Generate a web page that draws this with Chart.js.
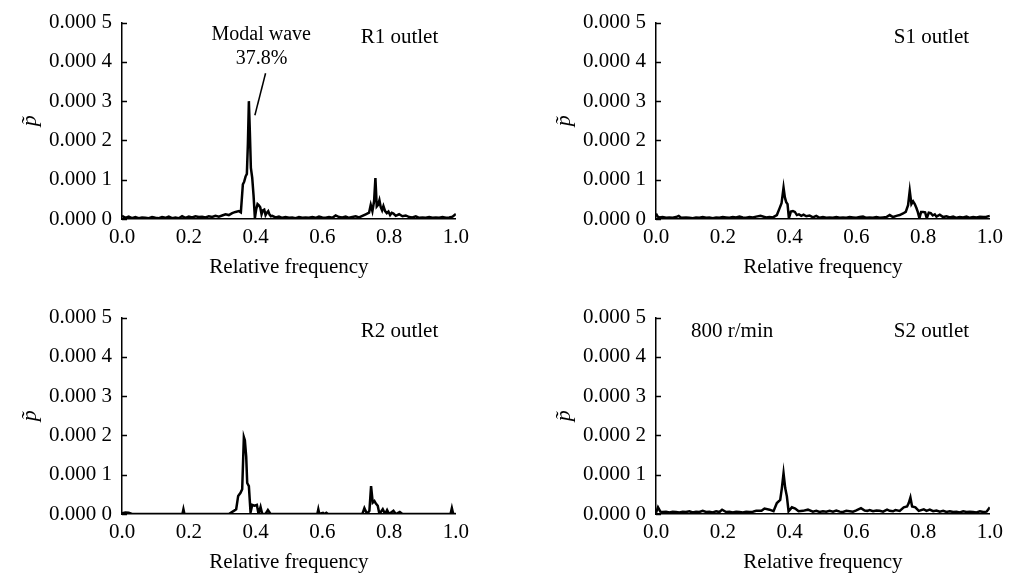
<!DOCTYPE html>
<html>
<head>
<meta charset="utf-8">
<script src="https://cdn.jsdelivr.net/npm/chart.js@4.4.1/dist/chart.umd.min.js"></script>
<style>
  html, body { margin: 0; padding: 0; background: #fff; overflow: hidden; }
  body { width: 1009px; height: 573px; position: relative; }
  canvas { position: absolute; }
</style>
</head>
<body>
<canvas id="chartR1" width="475" height="290" style="left:0;top:0"></canvas>
<canvas id="chartS1" width="475" height="290" style="left:534px;top:0"></canvas>
<canvas id="chartR2" width="475" height="290" style="left:0;top:295px"></canvas>
<canvas id="chartS2" width="475" height="290" style="left:534px;top:295px"></canvas>
<script>
'use strict';

// --- tick labels ---
const xTickLabels = ['0.0', '0.2', '0.4', '0.6', '0.8', '1.0'];
const yTickLabels = ['0.000 0', '0.000 1', '0.000 2', '0.000 3', '0.000 4', '0.000 5'];

// --- R1 outlet ---
const freqR1 = [
  0.00, 0.01, 0.02, 0.03, 0.04, 0.05, 0.06, 0.07, 0.08, 0.09,
  0.10, 0.11, 0.12, 0.13, 0.14, 0.15, 0.16, 0.17, 0.18, 0.19,
  0.20, 0.21, 0.22, 0.23, 0.24, 0.25, 0.26, 0.27, 0.28, 0.29,
  0.30, 0.31, 0.32, 0.33, 0.34, 0.35, 0.356, 0.362, 0.366, 0.370,
  0.374, 0.377, 0.380, 0.383, 0.386, 0.390, 0.394, 0.398, 0.402, 0.406,
  0.410, 0.414, 0.418, 0.422, 0.426, 0.430, 0.434, 0.438, 0.442, 0.446,
  0.45, 0.46, 0.47, 0.48, 0.49, 0.50, 0.51, 0.52, 0.53, 0.54,
  0.55, 0.56, 0.57, 0.58, 0.59, 0.60, 0.61, 0.62, 0.63, 0.64,
  0.65, 0.66, 0.67, 0.68, 0.69, 0.70, 0.71, 0.72, 0.73, 0.74,
  0.745, 0.750, 0.755, 0.759, 0.763, 0.767, 0.771, 0.775, 0.779, 0.783,
  0.788, 0.793, 0.798, 0.803, 0.808, 0.813, 0.82, 0.83, 0.84, 0.85,
  0.86, 0.87, 0.88, 0.89, 0.90, 0.91, 0.92, 0.93, 0.94, 0.95,
  0.96, 0.97, 0.98, 0.99, 1.00,
];
const pR1 = [
  8e-6, 3e-6, 6e-6, 2e-6, 5e-6, 2e-6, 4e-6, 3e-6, 2e-6, 5e-6,
  3e-6, 2e-6, 5e-6, 3e-6, 6e-6, 2e-6, 4e-6, 2e-6, 7e-6, 3e-6,
  6e-6, 4e-6, 7e-6, 5e-6, 6e-6, 4e-6, 7e-6, 5e-6, 8e-6, 6e-6,
  9e-6, 1.2e-5, 1.0e-5, 1.5e-5, 1.8e-5, 2.0e-5, 1.7e-5, 8.8e-5, 9.5e-5, 1.08e-4,
  1.15e-4, 1.9e-4, 3.0e-4, 2.2e-4, 1.3e-4, 1.05e-4, 6e-5, 2e-6, 2.5e-5, 3.8e-5,
  3.5e-5, 3.0e-5, 1.2e-5, 2.2e-5, 2.4e-5, 1.0e-5, 1.6e-5, 2.0e-5, 1.1e-5, 7e-6,
  8e-6, 4e-6, 6e-6, 3e-6, 5e-6, 3e-6, 4e-6, 2e-6, 5e-6, 3e-6,
  4e-6, 3e-6, 5e-6, 3e-6, 6e-6, 4e-6, 3e-6, 5e-6, 3e-6, 9e-6,
  5e-6, 4e-6, 6e-6, 3e-6, 5e-6, 7e-6, 4e-6, 8e-6, 1.2e-5, 1.6e-5,
  3.6e-5, 2.0e-5, 4.5e-5, 1.04e-4, 3.2e-5, 3.6e-5, 4.8e-5, 3.0e-5, 2.2e-5, 3.3e-5,
  2.0e-5, 1.5e-5, 1.9e-5, 1.0e-5, 1.6e-5, 1.4e-5, 8e-6, 1.2e-5, 7e-6, 9e-6,
  5e-6, 4e-6, 7e-6, 3e-6, 4e-6, 3e-6, 5e-6, 3e-6, 4e-6, 3e-6,
  5e-6, 3e-6, 4e-6, 6e-6, 1.3e-5,
];

// --- S1 outlet ---
const freqS1 = [
  0.000, 0.005, 0.01, 0.02, 0.03, 0.04, 0.05, 0.06, 0.068, 0.075,
  0.09, 0.10, 0.11, 0.12, 0.13, 0.14, 0.15, 0.16, 0.17, 0.18,
  0.19, 0.20, 0.21, 0.22, 0.23, 0.24, 0.25, 0.26, 0.27, 0.28,
  0.29, 0.30, 0.313, 0.33, 0.34, 0.35, 0.362, 0.370, 0.376, 0.382,
  0.386, 0.390, 0.394, 0.398, 0.404, 0.410, 0.416, 0.422, 0.428, 0.435,
  0.442, 0.45, 0.46, 0.47, 0.48, 0.49, 0.50, 0.51, 0.52, 0.53,
  0.54, 0.55, 0.56, 0.57, 0.58, 0.59, 0.60, 0.61, 0.62, 0.63,
  0.64, 0.65, 0.66, 0.67, 0.68, 0.69, 0.70, 0.71, 0.72, 0.73,
  0.74, 0.748, 0.755, 0.760, 0.765, 0.770, 0.775, 0.780, 0.784, 0.789,
  0.794, 0.800, 0.806, 0.811, 0.817, 0.823, 0.829, 0.835, 0.84, 0.85,
  0.86, 0.87, 0.88, 0.89, 0.90, 0.91, 0.92, 0.93, 0.94, 0.95,
  0.96, 0.97, 0.98, 0.99, 1.00,
];
const pS1 = [
  1.4e-5, 6e-6, 4e-6, 5e-6, 3e-6, 4e-6, 3e-6, 5e-6, 8e-6, 3e-6,
  4e-6, 3e-6, 2e-6, 4e-6, 3e-6, 5e-6, 3e-6, 4e-6, 2e-6, 4e-6,
  3e-6, 5e-6, 4e-6, 3e-6, 5e-6, 4e-6, 6e-6, 4e-6, 3e-6, 5e-6,
  4e-6, 6e-6, 8e-6, 4e-6, 5e-6, 4e-6, 1.0e-5, 2.7e-5, 4.0e-5, 8.0e-5,
  5.5e-5, 4.3e-5, 3.8e-5, 2e-6, 1.9e-5, 2.0e-5, 1.8e-5, 1.0e-5, 1.2e-5, 8e-6,
  1.1e-5, 7e-6, 9e-6, 4e-6, 8e-6, 3e-6, 5e-6, 3e-6, 4e-6, 3e-6,
  5e-6, 3e-6, 4e-6, 3e-6, 5e-6, 4e-6, 3e-6, 5e-6, 6e-6, 3e-6,
  4e-6, 3e-6, 5e-6, 3e-6, 4e-6, 5e-6, 1.0e-5, 5e-6, 8e-6, 1.0e-5,
  1.4e-5, 1.8e-5, 3.5e-5, 7.2e-5, 3.8e-5, 4.5e-5, 3.8e-5, 2.8e-5, 1.8e-5, 2e-6,
  1.8e-5, 1.8e-5, 1.7e-5, 2e-6, 1.6e-5, 1.5e-5, 9e-6, 1.2e-5, 6e-6, 1.1e-5,
  5e-6, 7e-6, 4e-6, 6e-6, 3e-6, 5e-6, 4e-6, 6e-6, 3e-6, 5e-6,
  4e-6, 6e-6, 5e-6, 6e-6, 8e-6,
];

// --- R2 outlet ---
const freqR2 = [
  0.00, 0.01, 0.02, 0.03, 0.181, 0.184, 0.187, 0.32, 0.335, 0.342,
  0.348, 0.355, 0.360, 0.365, 0.368, 0.372, 0.375, 0.380, 0.385, 0.390,
  0.397, 0.404, 0.409, 0.415, 0.420, 0.430, 0.437, 0.445, 0.585, 0.588,
  0.591, 0.602, 0.607, 0.612, 0.617, 0.72, 0.726, 0.734, 0.741, 0.746,
  0.751, 0.756, 0.761, 0.766, 0.771, 0.781, 0.788, 0.794, 0.80, 0.813,
  0.82, 0.832, 0.84, 0.984, 0.988, 0.992, 1.00,
];
const pR2 = [
  2e-6, 4e-6, 3e-6, 0, 0, 1.2e-5, 0, 0, 8e-6, 1.2e-5,
  4.6e-5, 5.4e-5, 6.3e-5, 1.96e-4, 1.88e-4, 1.46e-4, 7.9e-5, 7.1e-5, 4e-6, 2.3e-5,
  2.1e-5, 2.3e-5, 0, 1.8e-5, 0, 0, 1.0e-5, 0, 0, 1.2e-5,
  0, 3e-6, 0, 3e-6, 0, 0, 1.5e-5, 0, 8e-6, 7.1e-5,
  2.9e-5, 3.3e-5, 2.6e-5, 2.1e-5, 0, 1.2e-5, 0, 1.0e-5, 0, 8e-6,
  0, 5e-6, 0, 0, 1.5e-5, 0, 0,
];

// --- S2 outlet ---
const freqS2 = [
  0.000, 0.006, 0.013, 0.02, 0.03, 0.04, 0.05, 0.06, 0.07, 0.08,
  0.09, 0.10, 0.11, 0.12, 0.13, 0.14, 0.15, 0.16, 0.17, 0.18,
  0.19, 0.198, 0.21, 0.22, 0.23, 0.24, 0.25, 0.26, 0.27, 0.28,
  0.29, 0.30, 0.316, 0.325, 0.34, 0.352, 0.362, 0.372, 0.377, 0.382,
  0.387, 0.392, 0.397, 0.407, 0.417, 0.427, 0.44, 0.455, 0.47, 0.48,
  0.49, 0.50, 0.51, 0.52, 0.53, 0.54, 0.55, 0.56, 0.57, 0.58,
  0.59, 0.60, 0.614, 0.625, 0.633, 0.64, 0.65, 0.66, 0.67, 0.68,
  0.692, 0.70, 0.71, 0.717, 0.73, 0.742, 0.752, 0.757, 0.762, 0.767,
  0.777, 0.787, 0.802, 0.81, 0.82, 0.83, 0.84, 0.85, 0.86, 0.87,
  0.88, 0.89, 0.90, 0.91, 0.92, 0.93, 0.94, 0.95, 0.96, 0.97,
  0.98, 0.99, 1.00,
];
const pS2 = [
  3e-6, 1.7e-5, 6e-6, 5e-6, 6e-6, 4e-6, 6e-6, 5e-6, 4e-6, 6e-6,
  5e-6, 7e-6, 4e-6, 6e-6, 5e-6, 8e-6, 5e-6, 6e-6, 4e-6, 7e-6,
  5e-6, 1.1e-5, 5e-6, 6e-6, 4e-6, 6e-6, 5e-6, 4e-6, 6e-6, 5e-6,
  6e-6, 8e-6, 8e-6, 1.4e-5, 1.1e-5, 7e-6, 2.8e-5, 3.6e-5, 6.6e-5, 1.04e-4,
  6.6e-5, 4.5e-5, 7e-6, 1.7e-5, 1.4e-5, 7e-6, 8e-6, 1.1e-5, 6e-6, 8e-6,
  5e-6, 7e-6, 6e-6, 8e-6, 6e-6, 9e-6, 6e-6, 5e-6, 8e-6, 7e-6,
  6e-6, 9e-6, 1.5e-5, 9e-6, 8e-6, 1.0e-5, 7e-6, 9e-6, 8e-6, 6e-6,
  1.1e-5, 8e-6, 7e-6, 1.0e-5, 8e-6, 1.7e-5, 1.9e-5, 2.8e-5, 4.2e-5, 1.9e-5,
  1.7e-5, 8e-6, 1.2e-5, 8e-6, 1.1e-5, 7e-6, 9e-6, 6e-6, 8e-6, 5e-6,
  7e-6, 5e-6, 6e-6, 4e-6, 7e-6, 5e-6, 6e-6, 5e-6, 4e-6, 7e-6,
  5e-6, 6e-6, 1.7e-5,
];

const FONT = 'Liberation Serif';

// text labels + leader line, placed in data units through the scales
const notesPlugin = {
  id: 'notes',
  afterDraw(chart, args, opts) {
    const { ctx, scales: { x, y }, chartArea } = chart;
    ctx.save();
    // inward y ticks
    ctx.strokeStyle = '#000';
    ctx.lineWidth = 1.5;
    y.ticks.forEach(t => {
      const py = Math.round(y.getPixelForValue(t.value)) + 0.5;
      ctx.beginPath();
      ctx.moveTo(chartArea.left, py);
      ctx.lineTo(chartArea.left + 5, py);
      ctx.stroke();
    });
    ctx.fillStyle = '#000';
    ctx.textAlign = 'center';
    ctx.textBaseline = 'middle';
    (opts.texts || []).forEach(t => {
      ctx.font = `${t.size || 21}px "${FONT}"`;
      ctx.fillText(t.text, x.getPixelForValue(t.x), y.getPixelForValue(t.y));
    });
    if (opts.line) {
      const [x1, y1, x2, y2] = opts.line;
      ctx.lineWidth = 1.5;
      ctx.beginPath();
      ctx.moveTo(x.getPixelForValue(x1), y.getPixelForValue(y1));
      ctx.lineTo(x.getPixelForValue(x2), y.getPixelForValue(y2));
      ctx.stroke();
    }
    ctx.restore();
  },
};

function makePanel(id, freq, values, padTop, notes) {
  const el = document.getElementById(id);
  if (!el) return;
  const tickFont = { family: FONT, size: 21 };
  new Chart(el.getContext('2d'), {
    type: 'line',
    data: {
      datasets: [{
        data: freq.map((f, i) => ({ x: f, y: values[i] })),
        borderColor: '#000',
        borderWidth: 2.5,
        pointRadius: 0,
        tension: 0,
        fill: false,
      }],
    },
    options: {
      responsive: false,
      animation: false,
      layout: { padding: { top: padTop, right: 15, left: 0, bottom: 0 } },
      plugins: {
        legend: { display: false },
        tooltip: { enabled: false },
        notes: notes,
      },
      scales: {
        x: {
          type: 'linear',
          min: 0,
          max: 1,
          ticks: {
            stepSize: 0.2,
            padding: 6,
            color: '#000',
            font: tickFont,
            maxRotation: 0,
            callback: (v, i) => xTickLabels[i],
          },
          grid: { display: false, drawTicks: false },
          border: { color: '#000', width: 1.5 },
          title: {
            display: true,
            text: 'Relative frequency',
            color: '#000',
            font: tickFont,
            padding: { top: 0, bottom: 10 },
          },
          afterFit: s => { s.height = 71; },
        },
        y: {
          min: 0,
          max: 0.0005,
          ticks: {
            stepSize: 0.0001,
            padding: 10,
            color: '#000',
            font: tickFont,
            callback: (v, i) => yTickLabels[i],
          },
          grid: { display: false, drawTicks: false },
          border: { color: '#000', width: 1.5 },
          title: {
            display: true,
            text: 'p\u0303',
            color: '#000',
            font: { family: FONT, size: 22, style: 'italic' },
            padding: { top: 17, bottom: 0 },
          },
          afterFit: s => { s.width = 122; },
        },
      },
    },
    plugins: [notesPlugin],
  });
}

makePanel('chartR1', freqR1, pR1, 18, {
  texts: [
    { text: 'R1 outlet', x: 0.831, y: 4.63e-4 },
    { text: 'Modal wave', x: 0.417, y: 4.70e-4, size: 20 },
    { text: '37.8%', x: 0.418, y: 4.08e-4, size: 20 },
  ],
  line: [0.430, 3.71e-4, 0.398, 2.64e-4],
});
makePanel('chartS1', freqS1, pS1, 18, {
  texts: [{ text: 'S1 outlet', x: 0.825, y: 4.63e-4 }],
});
makePanel('chartR2', freqR2, pR2, 19, {
  texts: [{ text: 'R2 outlet', x: 0.831, y: 4.65e-4 }],
});
makePanel('chartS2', freqS2, pS2, 19, {
  texts: [
    { text: '800 r/min', x: 0.228, y: 4.65e-4 },
    { text: 'S2 outlet', x: 0.825, y: 4.65e-4 },
  ],
});
</script>
</body>
</html>
